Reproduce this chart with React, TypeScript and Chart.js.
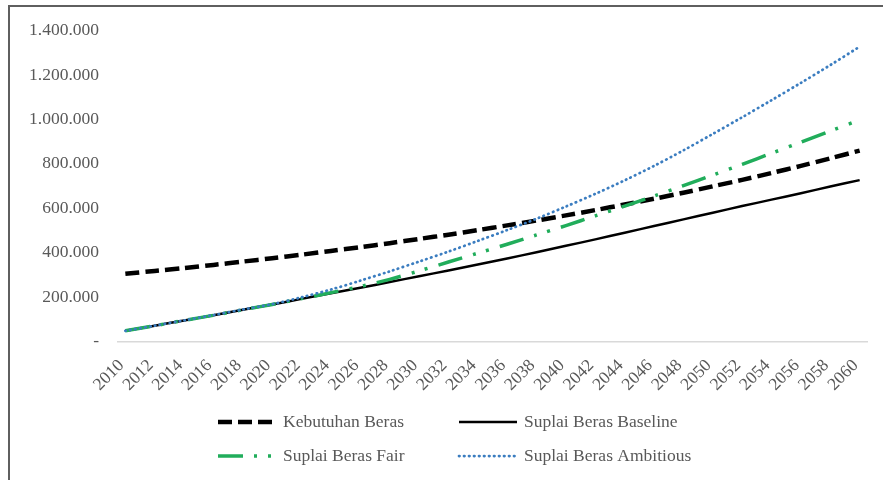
import React, { useEffect, useRef } from 'react';
import { Chart, registerables } from 'chart.js';

Chart.register(...registerables);

const years = [
  2010, 2012, 2014, 2016, 2018, 2020, 2022, 2024, 2026, 2028, 2030, 2032, 2034,
  2036, 2038, 2040, 2042, 2044, 2046, 2048, 2050, 2052, 2054, 2056, 2058, 2060,
];

const kebutuhanBeras = [
  305000, 318000, 331000, 345000, 360000, 375000, 391000, 408000, 425000, 443000,
  462000, 481000, 502000, 523000, 545000, 568000, 592000, 617000, 643000, 670000,
  699000, 728000, 759000, 791000, 825000, 860000,
];

const suplaiBaseline = [
  48000, 71000, 95000, 118000, 143000, 167000, 192000, 217000, 242000, 268000,
  294000, 320000, 347000, 374000, 402000, 431000, 460000, 490000, 520000, 550000,
  580000, 610000, 639000, 668000, 698000, 727000,
];

const suplaiFair = [
  48000, 71000, 95000, 118000, 143000, 167000, 193000, 220000, 248000, 280000,
  318000, 358000, 398000, 438000, 480000, 522000, 566000, 610000, 655000, 702000,
  750000, 798000, 848000, 898000, 948000, 998000,
];

const suplaiAmbitious = [
  48000, 71000, 95000, 119000, 144000, 168000, 199000, 234000, 274000, 316000,
  360000, 405000, 453000, 502000, 553000, 608000, 665000, 726000, 791000, 861000,
  935000, 1010000, 1087000, 1165000, 1245000, 1328000,
];

const yTicks = [0, 200000, 400000, 600000, 800000, 1000000, 1200000, 1400000];

const seriesNames = [
  'Kebutuhan Beras',
  'Suplai Beras Baseline',
  'Suplai Beras Fair',
  'Suplai Beras Ambitious',
];

const FONT = '"Liberation Serif", "Times New Roman", Times, serif';
const TEXT_COLOR = '#595959';

function fmtThousands(v: number): string {
  if (v === 0) return '-';
  return String(Math.round(v)).replace(/\B(?=(\d{3})+(?!\d))/g, '.');
}

const legendLayout = [
  { ds: 0, x1: 218, x2: 272, y: 422, tx: 283 },
  { ds: 1, x1: 459, x2: 517, y: 422, tx: 524 },
  { ds: 2, x1: 218, x2: 272, y: 456, tx: 283 },
  { ds: 3, x1: 459, x2: 517, y: 456, tx: 524 },
];

const customLegend = {
  id: 'customLegend',
  afterDraw(chart: any) {
    const ctx = chart.ctx as CanvasRenderingContext2D;
    ctx.save();
    legendLayout.forEach((item) => {
      const ds = chart.data.datasets[item.ds];
      ctx.beginPath();
      ctx.strokeStyle = ds.borderColor;
      ctx.lineWidth = ds.borderWidth;
      ctx.lineCap = ds.borderCapStyle || 'butt';
      ctx.setLineDash(ds.borderDash || []);
      ctx.moveTo(item.x1, item.y);
      ctx.lineTo(item.x2, item.y);
      ctx.stroke();
      ctx.setLineDash([]);
      ctx.fillStyle = TEXT_COLOR;
      ctx.font = `17.5px ${FONT}`;
      ctx.textAlign = 'left';
      ctx.textBaseline = 'middle';
      ctx.fillText(ds.label, item.tx, item.y);
    });
    ctx.restore();
  },
};

export default function App() {
  const canvasRef = useRef<HTMLCanvasElement | null>(null);

  useEffect(() => {
    const canvas = canvasRef.current;
    if (!canvas) return;
    const toPts = (arr: number[]) => years.map((yr, i) => ({ x: yr, y: arr[i] }));

    const chart = new Chart(canvas, {
      type: 'line',
      data: {
        datasets: [
          {
            label: seriesNames[0],
            data: toPts(kebutuhanBeras),
            borderColor: '#000000',
            borderWidth: 4.5,
            borderDash: [14, 6],
            borderCapStyle: 'butt',
            pointRadius: 0,
            tension: 0.3,
            order: 4,
          },
          {
            label: seriesNames[1],
            data: toPts(suplaiBaseline),
            borderColor: '#000000',
            borderWidth: 2.5,
            borderCapStyle: 'butt',
            pointRadius: 0,
            tension: 0.3,
            order: 3,
          },
          {
            label: seriesNames[2],
            data: toPts(suplaiFair),
            borderColor: '#21AD5B',
            borderWidth: 3.5,
            borderDash: [25, 11, 3, 11, 3, 11],
            borderCapStyle: 'butt',
            pointRadius: 0,
            tension: 0.3,
            order: 2,
          },
          {
            label: seriesNames[3],
            data: toPts(suplaiAmbitious),
            borderColor: '#3B7DC0',
            borderWidth: 2.75,
            borderDash: [0.5, 4.5],
            borderCapStyle: 'round',
            pointRadius: 0,
            tension: 0.3,
            order: 1,
          },
        ] as any,
      },
      options: {
        animation: false,
        responsive: false,
        devicePixelRatio: 1,
        layout: { padding: { left: 0, right: 16, top: 30.7, bottom: 78.5 } },
        plugins: {
          legend: { display: false },
          tooltip: { enabled: false },
        },
        scales: {
          x: {
            type: 'linear',
            min: 2009.5,
            max: 2060.5,
            afterBuildTicks: (s: any) => {
              s.ticks = years.map((v) => ({ value: v }));
            },
            afterFit: (s: any) => {
              s.height = 60;
              s.paddingLeft = 0;
              s.paddingRight = 0;
            },
            grid: { display: false, drawTicks: false },
            border: { display: true, color: '#D9D9D9', width: 1.5 },
            ticks: {
              autoSkip: false,
              maxRotation: 45,
              minRotation: 45,
              padding: 14,
              labelOffset: -4,
              color: TEXT_COLOR,
              font: { family: FONT, size: 17.5 },
              callback: (v: any) => String(v),
            },
          },
          y: {
            min: 0,
            max: 1400000,
            afterBuildTicks: (s: any) => {
              s.ticks = yTicks.map((v) => ({ value: v }));
            },
            afterFit: (s: any) => {
              s.width = 118;
              s.paddingTop = 0;
              s.paddingBottom = 0;
            },
            grid: { display: false, drawTicks: false },
            border: { display: false },
            ticks: {
              padding: 19,
              color: TEXT_COLOR,
              font: { family: FONT, size: 17.5 },
              callback: (v: any) => fmtThousands(Number(v)),
            },
          },
        },
      } as any,
      plugins: [customLegend],
    });

    return () => {
      chart.destroy();
    };
  }, []);

  return (
    <div
      style={{
        position: 'fixed',
        left: 0,
        top: 0,
        width: 883,
        height: 480,
        overflow: 'hidden',
        background: '#ffffff',
      }}
    >
      <canvas
        ref={canvasRef}
        width={883}
        height={480}
        style={{ position: 'absolute', left: 0, top: 0, width: 883, height: 480 }}
      />
      <div
        style={{
          position: 'absolute',
          left: 7.5,
          top: 4.7,
          width: 1000,
          height: 1000,
          borderLeft: '2.5px solid #5f5f5f',
          borderTop: '2.3px solid #5f5f5f',
          pointerEvents: 'none',
        }}
      />
    </div>
  );
}
